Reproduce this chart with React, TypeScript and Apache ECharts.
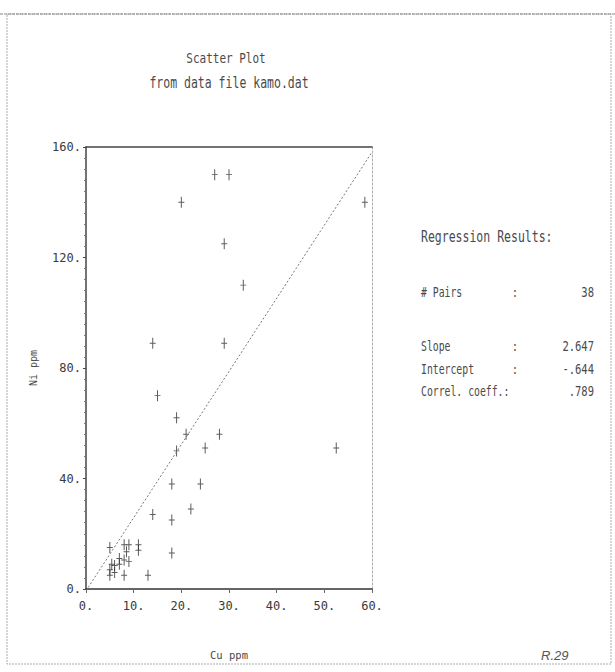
import React, { useEffect, useRef } from "react";
import * as echarts from "echarts";

const cuPpm = [27, 30, 20, 29, 33, 58.5, 14, 29, 15, 19, 21, 19, 25, 28, 52.5, 18, 24, 22, 14, 18, 18, 13, 5, 8, 9, 11, 11, 8.5, 8, 9, 5.4, 6, 7, 5, 6, 8, 5, 7];
const niPpm = [150, 150, 140, 125, 110, 140, 89, 89, 70, 62, 56, 50, 51, 56, 51, 38, 38, 29, 27, 25, 13, 5, 15, 16, 16, 16, 14, 13.5, 10.5, 10, 9, 8.5, 9, 7, 6, 5, 5, 11];

const titleLines = ["Scatter Plot", "from data file kamo.dat"];
const xName = "Cu ppm";
const yName = "Ni ppm";
const resultsTitle = "Regression Results:";
const resultLabels = ["# Pairs", "Slope", "Intercept", "Correl. coeff.:"];
const resultValues = ["38", "2.647", "-.644", ".789"];
const slope = 2.647;
const intercept = -0.644;
const note = "R.29";

const FONT = "DejaVu Sans Mono";
const TXT = "#4a4a4a";

export default function App() {
  const ref = useRef<HTMLDivElement>(null);
  useEffect(() => {
    const chart = echarts.init(ref.current!, null, { renderer: "svg" });
    const pts = cuPpm.map((x, i) => [x, niPpm[i]]);
    const xMin = 0, xMax = 60;
    const reg = [
      [xMin, intercept + slope * xMin],
      [xMax, intercept + slope * xMax],
    ];
    const rowY = [292, 346, 369, 391];
    const tall = { scaleY: 1.35 };
    const graphics: any[] = [
      {
        type: "rect",
        shape: { x: 7, y: 14, width: 604, height: 650 },
        style: { fill: "none", stroke: "#aaa", lineWidth: 1, lineDash: [2, 1] },
        silent: true,
      },
      {
        type: "line",
        shape: { x1: 0, y1: 14, x2: 615, y2: 14 },
        style: { stroke: "#888", lineWidth: 1.2, lineDash: [3, 1] },
        silent: true,
      },
      {
        type: "text",
        x: 421,
        y: 236,
        ...tall,
        style: { text: resultsTitle, font: `11.5px "${FONT}"`, fill: TXT, verticalAlign: "middle" },
      },
    ];
    resultLabels.forEach((lab, i) => {
      graphics.push({
        type: "text",
        x: 421,
        y: rowY[i],
        ...tall,
        style: { text: lab, font: `9.8px "${FONT}"`, fill: TXT, verticalAlign: "middle" },
      });
      if (i !== 3) {
        graphics.push({
          type: "text",
          x: 512,
          y: rowY[i],
          ...tall,
          style: { text: ":", font: `9.8px "${FONT}"`, fill: TXT, verticalAlign: "middle" },
        });
      }
      graphics.push({
        type: "text",
        x: 594,
        y: rowY[i],
        ...tall,
        style: {
          text: resultValues[i],
          font: `10.5px "${FONT}"`,
          fill: TXT,
          align: "right",
          verticalAlign: "middle",
        },
      });
    });
    graphics.push({
      type: "text",
      x: 541,
      y: 655,
      style: { text: note, font: `italic 13px "Liberation Sans"`, fill: "#555", verticalAlign: "middle" },
    });
    graphics.push({
      type: "text",
      x: 226,
      y: 58,
      ...tall,
      style: { text: titleLines[0], font: `11px "${FONT}"`, fill: TXT, align: "center", verticalAlign: "middle" },
    });
    graphics.push({
      type: "text",
      x: 229,
      y: 82,
      ...tall,
      style: { text: titleLines[1], font: `11.5px "${FONT}"`, fill: TXT, align: "center", verticalAlign: "middle" },
    });

    chart.setOption({
      animation: false,
      backgroundColor: "#fff",
      grid: { left: 86, right: 243, top: 147, bottom: 83 },
      xAxis: [
        {
          type: "value",
          min: xMin,
          max: xMax,
          interval: 10,
          name: xName,
          nameLocation: "middle",
          nameGap: 60,
          nameTextStyle: { fontFamily: FONT, fontSize: 10.5, color: TXT },
          axisLine: { onZero: false, lineStyle: { color: "#333", width: 1.5 } },
          axisTick: { show: true, length: 4, lineStyle: { color: "#666" } },
          axisLabel: {
            formatter: (v: number) => v + ".",
            fontFamily: FONT,
            fontSize: 12,
            color: "#3a3a3a",
            margin: 11,
          },
          splitLine: { show: false },
        },
        {
          type: "value",
          position: "top",
          min: xMin,
          max: xMax,
          interval: 10,
          axisLine: { show: true, onZero: false, lineStyle: { color: "#444", width: 1.5 } },
          axisTick: { show: false },
          axisLabel: { show: false },
          splitLine: { show: false },
        },
      ],
      yAxis: [
        {
          type: "value",
          min: 0,
          max: 160,
          interval: 40,
          name: yName,
          nameLocation: "middle",
          nameRotate: 90,
          nameGap: 48,
          nameTextStyle: { fontFamily: FONT, fontSize: 10, color: TXT },
          axisLine: { show: true, onZero: false, lineStyle: { color: "#444", width: 1.5 } },
          axisTick: { show: true, length: 3, lineStyle: { color: "#444" } },
          minorTick: { show: true, splitNumber: 10, length: 2, lineStyle: { color: "#777" } },
          axisLabel: {
            formatter: (v: number) => v + ".",
            fontFamily: FONT,
            fontSize: 12,
            color: "#3a3a3a",
            margin: 5,
          },
          splitLine: { show: false },
        },
        {
          type: "value",
          position: "right",
          min: 0,
          max: 160,
          interval: 40,
          axisLine: { show: true, onZero: false, lineStyle: { color: "#aaa", width: 1, type: [2, 2] } },
          axisTick: { show: false },
          axisLabel: { show: false },
          splitLine: { show: false },
        },
      ],
      series: [
        {
          type: "line",
          data: reg,
          symbol: "none",
          clip: true,
          lineStyle: { color: "#777", width: 1, type: [2, 2] },
          silent: true,
        },
        {
          type: "scatter",
          data: pts,
          symbol: "path://M2.5,0h1v11h-1z M0,5h6v1h-6z",
          symbolSize: [6, 11],
          itemStyle: { color: "#333" },
        },
      ],
      graphic: graphics,
    });
    return () => chart.dispose();
  }, []);
  return (
    <div
      ref={ref}
      style={{ position: "fixed", left: 0, top: 0, width: 615, height: 672, background: "#fff" }}
    />
  );
}
